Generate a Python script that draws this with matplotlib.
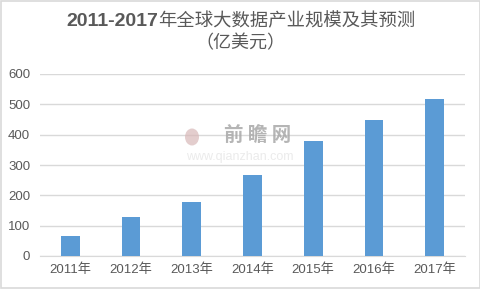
import matplotlib
matplotlib.use("Agg")
import matplotlib.pyplot as plt
from matplotlib.patches import Rectangle, Ellipse
from matplotlib.offsetbox import TextArea, HPacker, AnchoredOffsetbox

plt.rcParams['font.family'] = ['DejaVu Sans', 'Noto Sans CJK SC']

years = ["2011年", "2012年", "2013年", "2014年", "2015年", "2016年", "2017年"]
values = [66, 129, 178, 267, 380, 449, 518]
yticks = [0, 100, 200, 300, 400, 500, 600]

fig = plt.figure(figsize=(4.81, 2.89), dpi=100)
ax = fig.add_axes([40/481, 1-256/289, 425/481, (256-74)/289])

x = range(len(years))
ax.bar(x, values, width=0.31, color='#5B9BD5', zorder=3)
ax.set_xlim(-0.5, len(years) - 0.5)
ax.set_ylim(0, 600)
ax.set_yticks(yticks)
ax.set_xticks(list(x))
ax.set_xticklabels(years, family=['Liberation Sans', 'Noto Sans CJK SC'])
ax.set_yticklabels([str(t) for t in yticks], family=['Liberation Sans'])
ax.tick_params(axis='both', length=0, labelsize=9.5, colors='#595959', pad=5)
ax.tick_params(axis='y', pad=7)
ax.grid(axis='y', color='#D9D9D9', linewidth=1, zorder=0)
for s in ['top', 'right', 'left']:
    ax.spines[s].set_visible(False)
ax.spines['bottom'].set_color('#D9D9D9')

# watermark
fig.add_artist(Ellipse((192/481, 1-137/289), 14/481, 17/289, transform=fig.transFigure,
                       facecolor='#D8B8B8', edgecolor='none', alpha=0.7, zorder=1))
fig.text(258/481, 1-136/289, "前 瞻 网", family=['Noto Sans CJK SC'], fontsize=14, color='#A8A8A8',
         ha='center', va='center', zorder=1, fontweight='bold', alpha=0.85)
fig.text(240/481, 1-157/289, "www.qianzhan.com", family=['Liberation Sans'], fontsize=9,
         color='#EBEBEB', ha='center', va='center', zorder=1)

# title
ta1 = TextArea("2011-2017", textprops=dict(family=['Liberation Sans'], fontsize=14,
               fontweight='bold', color='#595959'))
ta2 = TextArea("年全球大数据产业规模及其预测", textprops=dict(family=['Noto Sans CJK SC'],
               fontsize=13.2, color='#595959'))
pack = HPacker(children=[ta1, ta2], align='baseline', pad=0, sep=0)
ab = AnchoredOffsetbox(loc='center', child=pack, frameon=False,
                       bbox_to_anchor=(0.5, 1-21/289), bbox_transform=fig.transFigure,
                       pad=0, borderpad=0)
fig.add_artist(ab)
fig.text(0.5, 1-43/289, "（亿美元）", family=['Noto Sans CJK SC'], fontsize=13,
         color='#595959', ha='center', va='center')

fig.add_artist(Rectangle((0.002, 0.003), 0.995, 0.994, transform=fig.transFigure,
                         fill=False, edgecolor='#D9D9D9', linewidth=1.2))

fig.savefig("out.png", dpi=100)
